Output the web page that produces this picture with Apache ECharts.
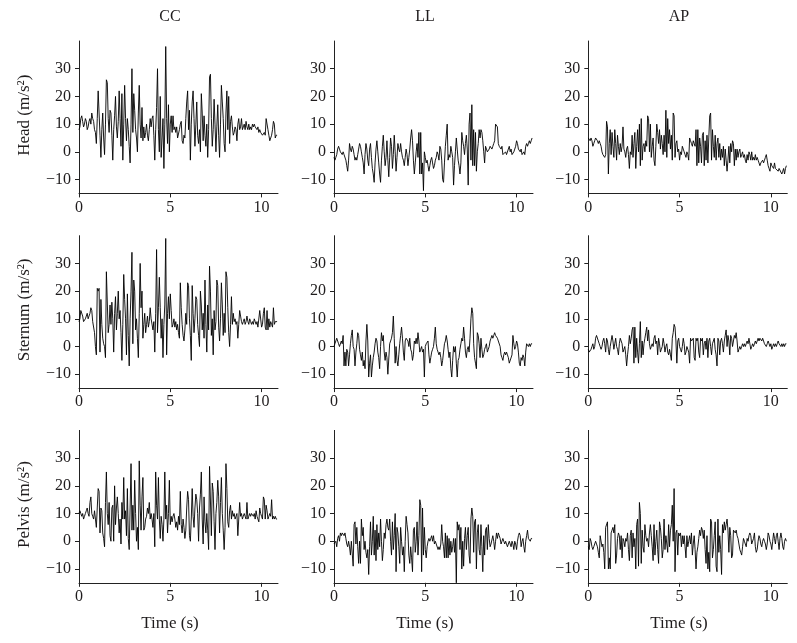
<!DOCTYPE html>
<html>
<head>
<meta charset="utf-8">
<script src="https://cdn.jsdelivr.net/npm/echarts@6/dist/echarts.min.js"></script>
<style>
html,body{margin:0;padding:0;background:#fff;}
#chart{width:797px;height:643px;}
</style>
</head>
<body>
<div id="chart"></div>
<script>
// sampling step of the digitised signals (s)
const DT = 0.05;
const columns = ['CC', 'LL', 'AP'];
const rowNames = ['Head (m/s\u00B2)', 'Sternum (m/s\u00B2)', 'Pelvis (m/s\u00B2)'];
const xName = 'Time (s)';
const yTicks = [-10, 0, 10, 20, 30];
const xTicks = [0, 5, 10];

const ccHead = [
 8, 9, 12, 13, 11, 9, 10, 12, 11, 8, 9, 11, 12, 10, 14, 12, 11, 8, 7, 3,
 12, 22, 22, 6, -2, 8, 14, 5, -1, 10, 26, 25, 12, 7, 15, 14, 6, -3, 8, 13,
 20, 9, 5, 11, 22, 12, 2, 21, -3, 10, 24, 12, 4, 12, 8, 2, -4, 10, 30, 7,
 21, 15, 8, 5, 0, 14, 24, 10, 5, 16, 4, 9, 5, 7, 10, 6, 4, 8, 12, 9,
 12, 13, 6, -3, 8, 16, 30, 8, 0, 20, -2, 5, 12, -6, 10, 38, 12, 3, 17, 0,
 10, 13, 7, 13, 8, 9, 7, 9, 5, 5, 8, 10, 11, 4, 3, 6, 5, 12, 18, 22,
 8, 15, -3, 10, 18, 22, 12, 2, 10, 18, 6, 3, 8, 0, 21, 14, 4, 13, 6, 2,
 10, -2, 8, 27, 28, 12, 2, 8, 19, 10, 0, 9, 17, 6, -2, 10, 24, 18, 12, 3,
 0, 14, 22, 8, 20, 3, 11, 13, 9, 6, 7, 9, 8, 4, 10, 12, 8, 9, 12, 8,
 9, 10, 8, 11, 9, 8, 10, 8, 9, 8, 10, 9, 10, 9, 9, 8, 9, 7, 8, 7,
 7, 6, 6, 7, 6, 12, 12, 8, 6, 4, 4, 6, 8, 11, 10, 5, 6, 6
];
const llHead = [
 -2, -3, -2, -1, 1, 2, 1, 0, 0, -1, 0, -1, -1, -3, -5, -7, -3, 3, 1, 0,
 2, 1, -1, -3, -2, -3, -1, 1, 3, 2, 0, -2, -4, -8, -1, 3, 1, -3, -5, 1,
 3, -2, -6, -8, -11, -4, 1, 4, 0, -4, -8, -11, -3, 2, 6, 0, -5, -2, 4, -3,
 -9, -2, 5, 2, -6, -1, 6, 0, -7, -2, 3, 1, 0, 3, 0, -2, -3, -5, -2, 1,
 -1, -5, -2, 1, 5, 8, 4, -3, -8, -4, 0, 3, -2, 7, -8, 7, -8, -4, -14, 0,
 -2, -4, -3, -5, -7, -5, -3, -2, -4, -6, -5, -3, -2, 0, -1, -3, 2, 1, -3, -10,
 -11, -4, 2, 6, 10, -3, -1, -2, 2, 0, -2, -12, -5, 0, 5, 1, -3, -5, -8, -4,
 7, 4, 2, -1, 3, 6, 1, -12, 10, 14, -3, 17, -5, 8, -5, 7, -7, 0, 3, 8,
 5, 8, 7, 4, 0, -4, 2, 1, 0, 0, 1, 2, 2, 1, 2, 3, 4, 10, 10, 9,
 3, 2, 2, 1, 2, -1, -1, -1, 0, -1, -1, 1, 2, 0, 1, -1, -1, 0, 1, 2,
 4, 3, 1, 1, 0, 1, -1, -1, 0, -1, 2, 3, 2, 3, 4, 3, 4, 5
];
const apHead = [
 5, 5, 4, 5, 4, 2, 3, 4, 5, 5, 4, 3, 4, 3, 2, 0, -1, -1, -2, -1,
 11, 9, -8, 3, 8, -1, 7, 2, -2, 8, 3, -3, 6, 2, -1, 3, 0, 2, 9, 1,
 0, -2, 1, 2, -1, -6, 0, -1, 6, -2, 3, 7, -6, 2, 8, 0, 10, -5, 12, -3,
 2, 3, 0, 4, 2, 13, 12, 0, 10, -2, 2, 5, -3, -5, 2, 10, 7, 3, 8, 1,
 6, 3, -1, 6, 0, 15, -2, 12, 3, 8, 1, 6, -3, 14, 13, -2, 3, 4, 0, 1,
 -3, 0, -1, 2, 1, 0, -1, -2, 0, -1, -3, 5, 4, 3, 2, 4, 3, 2, 8, -5,
 8, -4, 5, 2, -4, 6, 7, -5, 4, -3, 6, -4, 5, 13, 14, -3, 8, 2, -2, 6,
 -3, 3, 5, -2, 3, -3, 1, -2, 2, -5, 1, -3, -7, -3, 2, -4, 3, 0, 4, 3,
 -5, 1, -3, 1, -2, 0, 1, -2, -1, 0, -2, -1, -3, -4, -1, -3, 0, -1, -3, 0,
 -3, -2, -3, -1, -3, -2, -3, -4, -5, -4, -4, -3, -4, -3, -2, -1, -3, -5, -6, -7,
 -4, -5, -5, -6, -4, -6, -6, -6, -7, -6, -6, -6, -8, -7, -6, -8, -6, -5
];
const ccSternum = [
 9, 10, 13, 13, 11, 9, 9, 10, 11, 12, 10, 11, 12, 14, 13, 9, 9, 5, 0, -3,
 21, 20, 21, -2, 17, 8, 3, 1, 0, -4, 27, 27, 5, 8, 15, 8, 16, 10, -2, 12,
 18, 6, 12, 20, 10, 13, 5, -5, 8, 26, 17, 10, -3, 19, 4, -7, 10, 20, 34, 1,
 24, 20, 6, 10, 3, -4, 12, 30, 14, 20, 3, 8, 12, 5, 8, 11, 7, 9, 14, 10,
 10, 6, 9, -2, 12, 35, 5, 14, 25, 14, 3, 10, -4, 8, 15, 39, -3, 12, 18, 10,
 19, 13, 7, 8, 10, 7, 9, 6, 8, 5, 3, 23, 14, 8, 4, 2, 6, 12, 8, 23,
 22, 10, 4, -5, 22, 12, 5, 10, 18, 17, 8, 4, 0, 20, 15, 6, 12, 3, 24, 8,
 -2, 15, 6, 29, 20, 4, 10, -3, 13, 6, 9, 24, 22, 7, 2, 10, 23, 15, 4, 12,
 5, 27, 25, 14, 5, 0, 8, 18, 8, 12, 9, 10, 8, 9, 3, 8, 13, 11, 9, 8,
 9, 10, 8, 9, 11, 9, 8, 10, 9, 8, 9, 8, 10, 9, 8, 9, 7, 7, 13, 13,
 7, 8, 12, 14, 7, 6, 13, 6, 10, 7, 9, 8, 7, 14, 8, 9, 9, 9
];
const llSternum = [
 0, 1, 2, 3, 3, 1, 0, 0, 2, 1, 4, -7, -2, -7, -1, -2, -7, -3, 1, 4,
 6, 0, -1, -7, -2, 1, 5, 4, -1, -3, -5, -2, -7, -5, -8, 2, 8, 2, -11, -6,
 -3, -11, -7, -4, -2, 1, 3, 2, -2, -4, -8, 0, 5, 2, 4, -2, -5, -2, -4, -10,
 -10, 1, 2, 3, 5, 11, 3, -6, 0, -5, -7, -3, 1, 4, 7, 3, -2, -5, 2, 3,
 3, 2, 0, 3, -1, -2, -5, -3, 2, 1, 3, 1, 5, 2, -2, -1, 0, -2, -1, -11,
 0, 1, 1, 2, -3, -6, -4, -2, -1, 0, 3, 7, 1, -1, -2, -3, -2, -4, -7, -5,
 -2, 1, 2, 4, 2, -1, -4, -2, -8, -11, -5, 0, -2, 0, -6, -11, -5, -4, -1, 1,
 3, 2, 7, 3, -2, -4, -1, 0, -2, 3, 10, 14, 12, 1, -4, -6, -8, 5, 4, 1,
 -4, 3, -1, -4, -3, -1, 0, 1, -2, -1, 0, 2, 3, 4, 3, 4, 5, 4, 4, 3,
 2, 2, 0, -3, -4, -5, -3, -2, -3, -2, -3, -4, -6, -6, -6, -3, 4, 1, -1, 0,
 2, 1, -2, -6, -7, -4, -5, -3, -4, -7, -2, 1, 1, 0, 1, 0, 1, 1
];
const apSternum = [
 -1, -2, -2, -1, 0, 1, -1, 0, 3, 4, 4, 2, 1, 0, -1, 0, 2, 3, 1, -2,
 3, 2, -1, -3, 0, 2, 4, 2, -1, 1, 3, 0, -1, -3, 1, 3, 2, 1, -2, -1,
 0, -3, -7, -3, 0, 4, 1, 3, 6, 7, -6, 7, -4, 3, -2, -6, 1, 9, -4, 2,
 -3, 1, 3, 5, 7, 2, 6, 1, -1, 0, 1, 0, 3, 4, 1, 2, -3, 3, 1, -2,
 -1, 0, 3, 1, -2, 0, 1, -2, -3, -1, -3, -5, 3, 5, 8, 7, 2, -6, 2, 3,
 0, -1, -2, 0, 3, 1, -3, -2, 0, -1, -2, -6, 3, 2, 2, 3, -4, -5, 3, 2,
 3, -2, -4, 3, 2, 3, -3, 1, 2, -1, 3, -4, 2, 3, 0, -3, 1, 2, 3, -1,
 -3, -7, 3, 2, -3, 2, 3, 1, -2, 2, 4, 6, 0, 4, 2, -3, 4, 3, 0, 2,
 4, 3, 5, 2, -2, -1, 0, -1, 0, 1, 0, 1, 0, 1, 2, 1, 3, 1, -1, 0,
 1, 0, 1, 2, 1, 2, 3, 2, 3, 3, 2, 3, 2, 1, 1, 0, 1, 2, 1, 0,
 1, -1, 0, 1, 0, 1, 0, 1, 2, 1, 1, 0, 1, 0, 1, 0, 1, 1
];
const ccPelvis = [
 10, 11, 10, 9, 10, 8, 9, 10, 11, 12, 10, 9, 14, 16, 10, 9, 8, 11, 8, 5,
 12, 19, 18, 3, 12, 11, 3, 1, -2, 14, 25, 10, 6, 14, 2, 0, 12, 13, 0, 20,
 6, 12, 16, 10, 3, 8, -1, 14, 8, 23, 8, 11, 2, 19, 1, -3, 12, 28, 4, 13,
 4, 22, 10, 0, 5, -3, 29, 13, 4, 16, 23, 4, 5, 8, 9, 12, 10, 14, 8, 10,
 8, 5, 10, -2, 25, 13, 8, 23, 8, 1, 9, 6, 0, 8, 25, 8, 13, 3, 10, 22,
 6, 9, 7, 9, 10, 8, 5, 7, 4, 9, 6, 18, 6, 3, 8, 5, 1, 4, 12, 18,
 15, 2, 0, 8, 19, 9, 5, 12, 17, 15, 10, 0, 12, 17, 25, 8, -1, 16, 7, 3,
 10, 4, -3, 27, 27, 2, 21, 18, 7, -3, 10, 14, 22, 16, 3, 14, 23, 10, 4, -3,
 5, 28, 19, 7, 5, 11, 13, 8, 11, 9, 10, 8, 9, 10, 2, 8, 14, 9, 10, 8,
 9, 10, 9, 8, 14, 8, 9, 10, 9, 10, 10, 9, 10, 8, 11, 9, 8, 7, 12, 10,
 9, 8, 16, 15, 8, 13, 11, 8, 9, 10, 9, 15, 8, 9, 8, 9, 8, 8
];
const llPelvis = [
 -1, -1, 0, -2, 1, 2, 0, 3, 2, 3, 3, 2, 3, 1, -1, -2, 0, -2, -5, 0,
 0, -9, 6, 7, -1, 5, -2, -8, 0, -8, 8, 2, 5, -3, 0, -4, -6, -3, -12, -2,
 7, -5, 0, 9, -5, 4, -7, 6, -3, 3, -2, 8, 0, -7, -3, 3, 1, 6, 8, 5,
 4, 8, 0, -5, 7, -3, 2, 10, -11, 5, 3, -2, -8, 5, 0, -5, -2, -11, 0, 9,
 6, 3, -5, -8, -2, -6, -11, 4, 5, -4, 0, 7, -5, 2, 15, 13, -11, 12, -5, 5,
 -3, -6, -2, 0, 1, 0, 1, 2, 0, 2, -1, 0, -1, -1, -3, -2, -3, -1, 6, 0,
 -2, -6, 3, -6, 2, -6, 1, -5, 0, -4, -2, 1, -4, 1, -15, 7, 4, 6, -3, 5,
 -10, 0, -9, 1, 5, -3, 2, 5, -5, -8, 8, 12, 9, -4, 7, 8, -10, 3, 6, -3,
 -5, 6, -2, -11, 2, -5, 4, 5, -3, 6, 1, -2, -1, -1, 2, 0, -3, 0, 3, 1,
 3, 2, 1, -1, 0, 1, 0, -1, 0, -1, -2, -1, 0, -1, -2, 0, -1, -3, 0, -1,
 -3, 0, 2, 3, 2, -2, 0, 1, -2, -4, 0, 2, 4, 1, 1, 0, 1, 1
];
const apPelvis = [
 -2, -3, 1, 0, -2, -3, -2, -1, 0, -1, -2, -4, -6, 2, 2, -2, -1, -4, -10, 5,
 5, 7, -10, -6, -10, 3, 4, 5, 3, 6, -8, -5, 1, 3, 2, -3, 2, -6, 1, 0,
 -2, 1, 0, 3, -3, -7, 2, 4, -6, 3, -2, 1, -10, 6, 8, -9, 14, 10, -8, 4,
 -2, -4, 6, 2, 0, 1, -2, 3, 6, 2, -2, -7, 6, -5, 0, 4, -3, -8, 7, 5,
 1, -6, -3, 8, -3, 2, -1, -4, 6, -2, 4, 6, 13, 0, 19, -11, 3, 4, -5, 3,
 2, 3, -2, 2, -1, 2, -2, -6, 2, -2, 0, 2, -1, 3, -5, -1, 2, -3, -10, -4,
 -2, 1, 4, 2, 5, 4, 1, 4, -3, -8, 2, -10, -4, -11, 8, 7, -6, -3, 2, 7,
 -9, -11, 8, -4, 2, -3, -12, 6, 3, 7, 4, 6, 8, 4, -4, 5, 2, -6, -5, 4,
 4, 3, 4, 2, 1, -1, -3, -4, -5, -2, 1, 0, -1, -2, 1, 0, 2, 3, 2, -1,
 -1, 1, 3, -2, -4, -3, 0, 2, 1, -1, -2, 0, 1, 0, -1, -3, -1, 3, 2, 0,
 -1, -3, 0, 3, 1, -1, 2, 3, 0, -3, 1, 3, 1, -2, -3, 0, 1, 0
];

const panels = [
  [ccHead, llHead, apHead],
  [ccSternum, llSternum, apSternum],
  [ccPelvis, llPelvis, apPelvis]
];

// layout
const FONT = "'Liberation Serif', 'DejaVu Serif', serif";
const TXT = '#1f1c1d';
const AX = '#222';
const lefts = [79, 334, 588.3];
const tops = [41, 235.7, 430.4];
const GW = 199, GH = 152.4;
const titleX = [170, 425, 679];

const grid = [], xAxis = [], yAxis = [], series = [];
const fmt = v => (v < 0 ? '\u2212' + Math.abs(v) : String(v));
for (let r = 0; r < 3; r++) {
  for (let c = 0; c < 3; c++) {
    const k = r * 3 + c;
    grid.push({left: lefts[c], top: tops[r], width: GW, height: GH, containLabel: false});
    xAxis.push({
      type: 'value', gridIndex: k, min: 0, max: 10.9,
      axisLine: {show: true, onZero: false, lineStyle: {color: AX, width: 1}},
      axisTick: {show: true, length: 4, customValues: xTicks, lineStyle: {color: AX}},
      axisLabel: {customValues: xTicks, fontFamily: FONT, fontSize: 16, color: TXT, margin: 6, formatter: fmt},
      splitLine: {show: false}
    });
    yAxis.push({
      type: 'value', gridIndex: k, min: -15, max: 40,
      axisLine: {show: true, onZero: false, lineStyle: {color: AX, width: 1}},
      axisTick: {show: true, length: 4, customValues: yTicks, lineStyle: {color: AX}},
      axisLabel: {customValues: yTicks, fontFamily: FONT, fontSize: 16, color: TXT, margin: 8, formatter: fmt},
      splitLine: {show: false}
    });
    series.push({
      type: 'line', xAxisIndex: k, yAxisIndex: k, showSymbol: false, symbol: 'none',
      animation: false, silent: true,
      lineStyle: {color: '#000', width: 0.9},
      data: panels[r][c].map((v, i) => [Math.round(i * DT * 100) / 100, v])
    });
  }
}

const graphic = [];
columns.forEach((t, c) => graphic.push({
  type: 'text', x: titleX[c], y: 17,
  style: {text: t, font: '16px ' + FONT, fill: TXT, textAlign: 'center', textVerticalAlign: 'middle'}
}));
rowNames.forEach((t, r) => graphic.push({
  type: 'text', x: 25, y: tops[r] + GH / 2 - 2, rotation: Math.PI / 2,
  style: {text: t, font: '17px ' + FONT, fill: TXT, textAlign: 'center', textVerticalAlign: 'middle'}
}));
titleX.forEach(x => graphic.push({
  type: 'text', x: x, y: 624,
  style: {text: xName, font: '17px ' + FONT, fill: TXT, textAlign: 'center', textVerticalAlign: 'middle'}
}));

const chart = echarts.init(document.getElementById('chart'), null, {renderer: 'canvas'});
chart.setOption({
  backgroundColor: '#fff',
  animation: false,
  grid, xAxis, yAxis, series, graphic
});
</script>
</body>
</html>
